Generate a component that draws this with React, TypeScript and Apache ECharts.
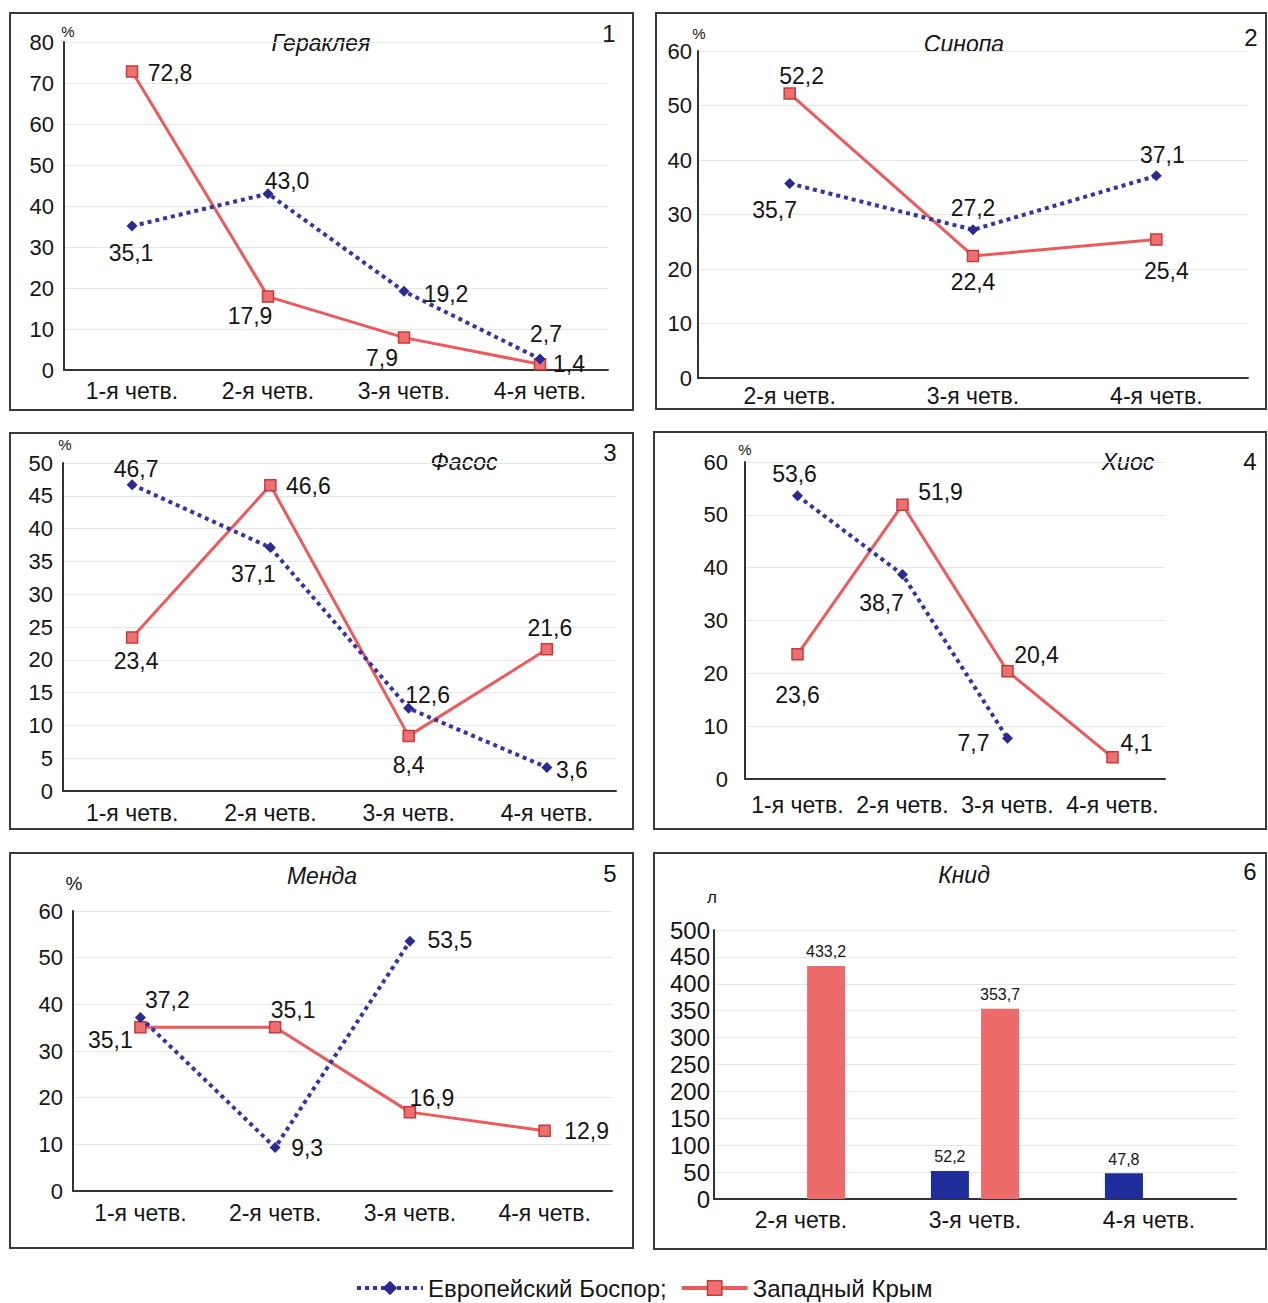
import React, { useEffect, useRef } from "react";
import * as echarts from "echarts";

const FONT = "'Liberation Sans', Arial, sans-serif";
const BLUE_NAME = "Европейский Боспор";
const RED_NAME = "Западный Крым";

// ---- data ----
const cats4 = ["1-я четв.", "2-я четв.", "3-я четв.", "4-я четв."];
const cats3 = ["2-я четв.", "3-я четв.", "4-я четв."];

const heracleaBosporus = [35.1, 43.0, 19.2, 2.7];
const heracleaCrimea = [72.8, 17.9, 7.9, 1.4];

const sinopeBosporus = [35.7, 27.2, 37.1];
const sinopeCrimea = [52.2, 22.4, 25.4];

const thasosBosporus = [46.7, 37.1, 12.6, 3.6];
const thasosCrimea = [23.4, 46.6, 8.4, 21.6];

const chiosBosporus = [53.6, 38.7, 7.7, null];
const chiosCrimea = [23.6, 51.9, 20.4, 4.1];

const mendeBosporus = [37.2, 9.3, 53.5, null];
const mendeCrimea = [35.1, 35.1, 16.9, 12.9];

const cnidusBosporus = [null, 52.2, 47.8];
const cnidusCrimea = [433.2, 353.7, null];

const titles = ["Гераклея", "Синопа", "Фасос", "Хиос", "Менда", "Книд"];
const units = ["%", "%", "%", "%", "%", "л"];

// ---- label placement (pixel offsets from the marker) ----
const offs = [
  { b: [[-1, 27], [19, -13], [42, 3], [6, -25]], r: [[38, 1], [-18, 19], [-22, 20], [29, 0]] },
  { b: [[-15, 27], [0, -22], [6, -21]], r: [[12, -18], [0, 26], [10, 31]] },
  { b: [[4, -16], [-17, 26], [19, -13], [25, 3]], r: [[4, 24], [38, 1], [0, 29], [3, -21]] },
  { b: [[-3, -22], [-21, 28], [-34, 5], [0, 0]], r: [[0, 41], [38, -13], [29, -16], [24, -14]] },
  { b: [[27, -17], [32, 0], [40, -1], [0, 0]], r: [[-30, 13], [18, -17], [22, -14], [42, 0]] },
];

// ---- layout ----
const panels = [
  { grid: [64, 42, 544, 328], max: 80, step: 10, cats: cats4, xm: 9, ym: 10, ys: 22, border: [10, 13, 623, 397], title: [321, 43], num: [609, 33], unit: [68, 31, 15] },
  { grid: [698, 51, 550, 327], max: 60, step: 10, cats: cats3, xm: 6, ym: 6, ys: 22, border: [656, 13, 610, 396], title: [964, 44], num: [1251, 37], unit: [699, 33, 15] },
  { grid: [63, 463, 553, 328], max: 50, step: 5, cats: cats4, xm: 10, ym: 10, ys: 22, border: [10, 433, 623, 396], title: [464, 462], num: [610, 452], unit: [65, 444, 15] },
  { grid: [745, 462, 420, 317], max: 60, step: 10, cats: cats4, xm: 14, ym: 17, ys: 22, border: [654, 432, 612, 397], title: [1128, 462], num: [1250, 461], unit: [745, 449, 15] },
  { grid: [73, 911, 539, 280], max: 60, step: 10, cats: cats4, xm: 10, ym: 10, ys: 22, border: [10, 853, 623, 395], title: [322, 876], num: [610, 873], unit: [74, 883, 19] },
  { grid: [714, 930, 522, 269], max: 500, step: 50, cats: cats3, xm: 9, ym: 4, ys: 24, border: [654, 853, 612, 396], title: [964, 875], num: [1250, 871], unit: [712, 897, 17] },
];

const lineData = [
  [heracleaBosporus, heracleaCrimea],
  [sinopeBosporus, sinopeCrimea],
  [thasosBosporus, thasosCrimea],
  [chiosBosporus, chiosCrimea],
  [mendeBosporus, mendeCrimea],
];

const RED = "#EE5A5A";
const BLUE = "#3434A6";
const TXT = "#141414";
const fmt = (p: any) => {
  const v = Array.isArray(p.value) ? p.value[1] : p.value;
  return v == null ? "" : Number(v).toFixed(1).replace(".", ",");
};

function buildOption() {
  const grid = panels.map((p) => ({ left: p.grid[0], top: p.grid[1], width: p.grid[2], height: p.grid[3] }));
  const xAxis = panels.map((p, i) => ({
    type: "category",
    gridIndex: i,
    data: p.cats,
    boundaryGap: true,
    axisLine: { lineStyle: { color: "#333", width: 2 } },
    axisTick: { show: false },
    axisLabel: { fontSize: 23, color: TXT, margin: p.xm, interval: 0, fontFamily: FONT },
    splitLine: { show: false },
  }));
  const yAxis = panels.map((p, i) => ({
    type: "value",
    gridIndex: i,
    min: 0,
    max: p.max,
    interval: p.step,
    axisLine: { show: true, lineStyle: { color: "#333", width: 2 } },
    axisTick: { show: false },
    axisLabel: { fontSize: p.ys, color: TXT, margin: p.ym, fontFamily: FONT },
    splitLine: { show: true, lineStyle: { color: "#e6e6e6", width: 1 } },
  }));

  const series: any[] = [];
  lineData.forEach(([blue, red], i) => {
    const o = offs[i];
    series.push({
      type: "line",
      name: RED_NAME,
      xAxisIndex: i,
      yAxisIndex: i,
      data: red.map((v, j) => (v == null ? null : { value: v, label: { offset: o.r[j] } })),
      symbol: "rect",
      symbolSize: 11,
      lineStyle: { color: RED, width: 3 },
      itemStyle: { color: "#EC7070", borderColor: "#C83A3A", borderWidth: 1.5 },
      label: { show: true, position: "inside", formatter: fmt, fontSize: 23, color: TXT, fontFamily: FONT },
      z: 3,
    });
    series.push({
      type: "line",
      name: BLUE_NAME,
      xAxisIndex: i,
      yAxisIndex: i,
      data: blue.map((v, j) => (v == null ? null : { value: v, label: { offset: o.b[j] } })),
      symbol: "diamond",
      symbolSize: 11,
      lineStyle: { color: BLUE, width: 4, type: [4, 4] },
      itemStyle: { color: "#2A2A90" },
      label: { show: true, position: "inside", formatter: fmt, fontSize: 23, color: TXT, fontFamily: FONT },
      z: 4,
    });
  });
  series.push({
    type: "bar",
    name: BLUE_NAME,
    xAxisIndex: 5,
    yAxisIndex: 5,
    data: cnidusBosporus,
    barWidth: 38,
    barGap: "32%",
    itemStyle: { color: "#1F2D9A" },
    label: { show: true, position: "top", distance: 6, formatter: fmt, fontSize: 16, color: TXT, fontFamily: FONT },
  });
  series.push({
    type: "bar",
    name: RED_NAME,
    xAxisIndex: 5,
    yAxisIndex: 5,
    data: cnidusCrimea,
    barWidth: 38,
    barGap: "32%",
    itemStyle: { color: "#EE6B6B" },
    label: { show: true, position: "top", distance: 6, formatter: fmt, fontSize: 16, color: TXT, fontFamily: FONT },
  });

  const graphic: any[] = [];
  panels.forEach((p, i) => {
    graphic.push({
      type: "rect",
      silent: true,
      shape: { x: p.border[0], y: p.border[1], width: p.border[2], height: p.border[3] },
      style: { fill: "none", stroke: "#3a3a3a", lineWidth: 2 },
    });
    graphic.push({
      type: "text",
      x: p.title[0],
      y: p.title[1],
      style: { text: titles[i], fill: TXT, fontSize: 23, fontStyle: "italic", fontFamily: FONT, align: "center", verticalAlign: "middle" },
    });
    graphic.push({
      type: "text",
      x: p.num[0],
      y: p.num[1],
      style: { text: String(i + 1), fill: TXT, fontSize: 24, fontFamily: FONT, align: "center", verticalAlign: "middle" },
    });
    graphic.push({
      type: "text",
      x: p.unit[0],
      y: p.unit[1],
      style: { text: units[i], fill: TXT, fontSize: p.unit[2], fontFamily: FONT, align: "center", verticalAlign: "middle" },
    });
  });

  return {
    animation: false,
    backgroundColor: "#ffffff",
    textStyle: { fontFamily: FONT },
    grid,
    xAxis,
    yAxis,
    series,
    graphic,
    legend: {
      left: 350,
      top: 1271,
      itemWidth: 66,
      itemHeight: 18,
      itemGap: 13,
      data: [
        { name: BLUE_NAME, lineStyle: { width: 4, color: BLUE, type: [4, 4] }, itemStyle: { color: "#2A2A90" } },
        { name: RED_NAME, lineStyle: { width: 4, color: RED }, itemStyle: { color: "#EC7070", borderColor: "#C83A3A", borderWidth: 1.5 } },
      ],
      formatter: (n: string) => (n === BLUE_NAME ? n + ";" : n),
      textStyle: { fontSize: 24, color: TXT, fontFamily: FONT },
    },
  };
}

export default function App() {
  const ref = useRef<HTMLDivElement>(null);
  useEffect(() => {
    if (!ref.current) return;
    const chart = echarts.init(ref.current, undefined, { renderer: "svg" });
    chart.setOption(buildOption() as any);
    return () => chart.dispose();
  }, []);
  return <div ref={ref} style={{ position: "absolute", left: 0, top: 0, width: 1268, height: 1303 }} />;
}
